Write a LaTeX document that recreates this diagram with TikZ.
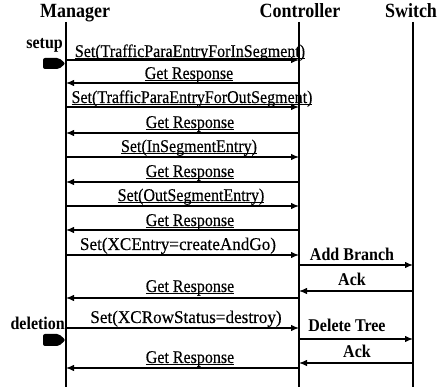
\documentclass[tikz,border=0pt]{standalone}
\usepackage{fontspec}
\setmainfont{Liberation Serif}
\newfontfamily\msgfont[FakeBold=0.3]{Liberation Serif}
\usetikzlibrary{arrows.meta}
\newcommand\ulx[1]{\setbox0\hbox{#1}\rlap{\rule[-1.8pt]{\wd0}{0.7pt}}\box0}
\newcommand\tallx[1]{\scalebox{1}[1.12]{#1}}
\newcommand\widex[1]{\scalebox{1.07}[1.12]{#1}}
\begin{document}
\begin{tikzpicture}[x=1pt,y=-1pt,
  hdr/.style={font=\fontsize{18}{20}\selectfont\bfseries,anchor=base,inner sep=0pt},
  lbl/.style={font=\fontsize{16}{18}\selectfont\bfseries,anchor=base east,inner sep=0pt},
  msgtext/.style={font=\fontsize{16}{18}\selectfont\msgfont,anchor=base,inner sep=0pt},
  boldmsg/.style={font=\fontsize{16}{18}\selectfont\bfseries,anchor=base,inner sep=0pt},
  life/.style={line width=1.2pt},
  msg/.style={line width=1.2pt,-{Latex[length=8pt,width=6.5pt]}},
  marker/.style={fill=black,rounded corners=2pt}]
\useasboundingbox (0,0) rectangle (445,387);
% headers
\node[hdr] (mgr) at (75,18) {\tallx{Manager}};
\node[hdr] (ctl) at (300,18) {\tallx{Controller}};
\node[hdr] (sw) at (411,18) {\tallx{Switch}};
% lifelines
\coordinate (mtop) at (66,22); \coordinate (mbot) at (66,387);
\coordinate (ctop) at (299,22); \coordinate (cbot) at (299,387);
\coordinate (stop) at (413,22); \coordinate (sbot) at (413,387);
\draw[life] (mtop) -- (mbot);
\draw[life] (ctop) -- (cbot);
\draw[life] (stop) -- (sbot);
% phase labels and markers
\node[lbl] (setup) at (63,49) {\tallx{setup}};
\fill[marker] (43,58) -- (59,58) -- (65.5,63.5) -- (59,69) -- (43,69) -- cycle;
\node[lbl] (deletion) at (65,330) {\tallx{deletion}};
\fill[marker] (43,334) -- (59,334) -- (65.5,340) -- (59,346) -- (43,346) -- cycle;
% message endpoints
\foreach \i/\y in {1/60,2/83,3/107,4/133,5/157,6/182,7/206,8/230,9/255,12/298,13/328,16/368}{
  \coordinate (m\i) at (66,\y); \coordinate (c\i) at (299,\y);}
\foreach \i/\y in {10/265,11/291,14/339,15/363}{
  \coordinate (c\i) at (299,\y); \coordinate (s\i) at (413,\y);}
% messages
\draw[msg] (m1) -- (c1);
\node[msgtext] (t1) at (190,57) {\tallx{\ulx{Set(TrafficParaEntryForInSegment)}}};
\draw[msg] (c2) -- (m2);
\node[msgtext] (t2) at (189,79) {\tallx{\ulx{Get Response}}};
\draw[msg] (m3) -- (c3);
\node[msgtext] (t3) at (192,103) {\tallx{\ulx{Set(TrafficParaEntryForOutSegment)}}};
\draw[msg] (c4) -- (m4);
\node[msgtext] (t4) at (190,128) {\tallx{\ulx{Get Response}}};
\draw[msg] (m5) -- (c5);
\node[msgtext] (t5) at (189,152) {\tallx{\ulx{Set(InSegmentEntry)}}};
\draw[msg] (c6) -- (m6);
\node[msgtext] (t6) at (190,177) {\tallx{\ulx{Get Response}}};
\draw[msg] (m7) -- (c7);
\node[msgtext] (t7) at (191,201) {\tallx{\ulx{Set(OutSegmentEntry)}}};
\draw[msg] (c8) -- (m8);
\node[msgtext] (t8) at (190,226) {\tallx{\ulx{Get Response}}};
\draw[msg] (m9) -- (c9);
\node[msgtext] (t9) at (178,250) {\widex{Set(XCEntry=createAndGo)}};
\draw[msg] (c10) -- (s10);
\node[boldmsg] (t10) at (352,261) {\tallx{Add Branch}};
\draw[msg] (s11) -- (c11);
\node[boldmsg] (t11) at (352,286) {\tallx{Ack}};
\draw[msg] (c12) -- (m12);
\node[msgtext] (t12) at (190,292) {\tallx{\ulx{Get Response}}};
\draw[msg] (m13) -- (c13);
\node[msgtext] (t13) at (186,323) {\widex{Set(XCRowStatus=destroy)}};
\draw[msg] (c14) -- (s14);
\node[boldmsg] (t14) at (347,332) {\tallx{Delete Tree}};
\draw[msg] (s15) -- (c15);
\node[boldmsg] (t15) at (357,358) {\tallx{Ack}};
\draw[msg] (c16) -- (m16);
\node[msgtext] (t16) at (190,363) {\tallx{\ulx{Get Response}}};
\end{tikzpicture}
\end{document}
